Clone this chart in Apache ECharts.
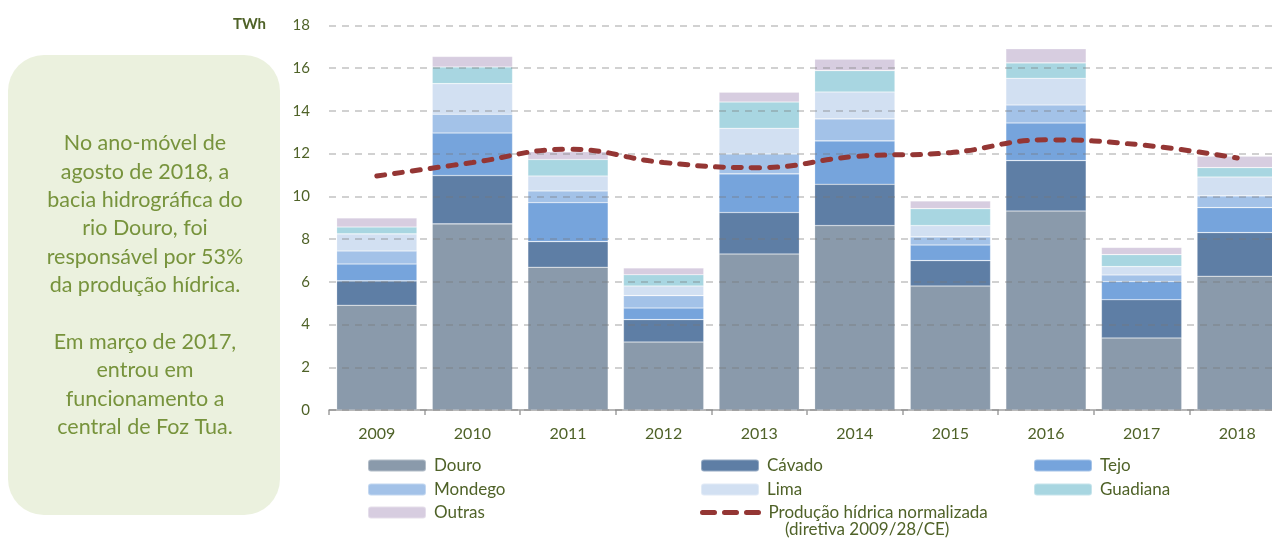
<!DOCTYPE html>
<html>
<head>
<meta charset="utf-8">
<script src="https://cdn.jsdelivr.net/npm/echarts@6/dist/echarts.min.js"></script>
<style>
  html, body { margin: 0; padding: 0; background: #fff; }
  #main { width: 1272px; height: 538px; }
</style>
</head>
<body>
<div id="main"></div>
<script>
var anos = ['2009', '2010', '2011', '2012', '2013', '2014', '2015', '2016', '2017', '2018'];

// TWh por bacia
var douro    = [4.90, 8.71, 6.68, 3.18, 7.30, 8.63, 5.80, 9.31, 3.37, 6.26];
var cavado   = [1.14, 2.26, 1.20, 1.05, 1.94, 1.93, 1.19, 2.36, 1.79, 2.04];
var tejo     = [0.79, 1.99, 1.82, 0.54, 1.81, 2.03, 0.73, 1.76, 0.85, 1.17];
var mondego  = [0.61, 0.88, 0.55, 0.58, 0.93, 1.03, 0.38, 0.84, 0.31, 0.55];
var lima     = [0.80, 1.43, 0.70, 0.45, 1.20, 1.26, 0.53, 1.25, 0.39, 0.88];
var guadiana = [0.32, 0.78, 0.77, 0.53, 1.23, 1.00, 0.79, 0.72, 0.56, 0.44];
var outras   = [0.43, 0.49, 0.37, 0.32, 0.46, 0.53, 0.36, 0.66, 0.34, 0.53];
var normalizada = [10.95, 11.58, 12.20, 11.58, 11.34, 11.86, 12.04, 12.64, 12.40, 11.79];

var corVerde = '#4f6228';
var fonte = 'Lato, "Open Sans", sans-serif';
var nomeLinha = 'Produção hídrica normalizada (diretiva 2009/28/CE)';

var bacias = [
    {nome: 'Douro', dados: douro, cor: '#8a9aab'},
    {nome: 'Cávado', dados: cavado, cor: '#5e7ea5'},
    {nome: 'Tejo', dados: tejo, cor: '#76a4dc'},
    {nome: 'Mondego', dados: mondego, cor: '#a3c2e8'},
    {nome: 'Lima', dados: lima, cor: '#d2e0f2'},
    {nome: 'Guadiana', dados: guadiana, cor: '#a8d6e1'},
    {nome: 'Outras', dados: outras, cor: '#d7cde0'}
];

var series = bacias.map(function (b) {
    return {
        name: b.nome,
        type: 'bar',
        stack: 'total',
        barCategoryGap: '16%',
        data: b.dados,
        itemStyle: {color: b.cor, borderColor: 'rgba(255,255,255,0.35)', borderWidth: 0.6}
    };
});
series.push({
    name: nomeLinha,
    type: 'line',
    smooth: 0.45,
    symbol: 'none',
    z: 5,
    data: normalizada,
    lineStyle: {color: '#943634', width: 5, type: [8, 10], cap: 'round'},
    itemStyle: {color: '#943634'}
});

// posicao de cada entrada da legenda (x, y do centro)
var posLegenda = [
    ['Douro', 367, 463], ['Cávado', 700, 463], ['Tejo', 1033, 463],
    ['Mondego', 367, 487], ['Lima', 700, 487], ['Guadiana', 1033, 487],
    ['Outras', 367, 510], [nomeLinha, 700, 510]
];
var legendas = posLegenda.map(function (p) {
    var leg = {
        data: [p[0]],
        left: p[1],
        top: p[2] - 6,
        padding: 0,
        itemWidth: 58,
        itemHeight: 12,
        itemGap: 0,
        selectedMode: false,
        textStyle: {color: corVerde, fontSize: 17, fontFamily: fonte, padding: [0, 0, 0, 3]},
        formatter: function (n) { return n === nomeLinha ? 'Produção hídrica normalizada' : n; }
    };
    if (p[0] === nomeLinha) {
        leg.itemStyle = {opacity: 0};
        leg.lineStyle = {color: '#943634', width: 5, type: [12, 10], cap: 'round'};
    }
    return leg;
});

var myChart = echarts.init(document.getElementById('main'));
var option = {
    animation: false,
    backgroundColor: '#fff',
    textStyle: {fontFamily: fonte},
    grid: {left: 329, top: 25.3, width: 956, height: 384.7, containLabel: false, outerBoundsMode: 'none'},
    legend: legendas,
    xAxis: {
        type: 'category',
        data: anos,
        axisLine: {lineStyle: {color: '#a0a0a0', width: 1.5}},
        axisTick: {show: true, length: 5, lineStyle: {color: '#a0a0a0', width: 1.5}},
        axisLabel: {color: corVerde, fontSize: 16, fontFamily: fonte, margin: 16}
    },
    yAxis: {
        type: 'value',
        min: 0,
        max: 18,
        interval: 2,
        z: 3,
        axisLine: {show: false},
        axisTick: {show: false},
        axisLabel: {color: corVerde, fontSize: 15, fontFamily: fonte, margin: 19},
        splitLine: {lineStyle: {color: 'rgba(120,120,120,0.45)', width: 1.5, type: [7, 6]}}
    },
    series: series,
    graphic: [
        {
            type: 'rect',
            shape: {x: 8, y: 55, width: 272, height: 460, r: 36},
            style: {fill: '#ebf1de'},
            z: -1
        },
        {
            type: 'text',
            x: 145,
            y: 129,
            style: {
                text: 'No ano-móvel de\nagosto de 2018, a\nbacia hidrográfica do\nrio Douro, foi\nresponsável por 53%\nda produção hídrica.\n\nEm março de 2017,\nentrou em\nfuncionamento a\ncentral de Foz Tua.',
                font: '21.5px ' + fonte,
                fill: '#77933c',
                textAlign: 'center',
                lineHeight: 28.4
            }
        },
        {
            type: 'text',
            right: 1272 - 266,
            top: 17,
            style: {text: 'TWh', font: 'bold 15px ' + fonte, fill: corVerde}
        },
        {
            type: 'text',
            left: 785,
            top: 521,
            style: {text: '(diretiva 2009/28/CE)', font: '17px ' + fonte, fill: corVerde}
        }
    ]
};
myChart.setOption(option);
</script>
</body>
</html>
